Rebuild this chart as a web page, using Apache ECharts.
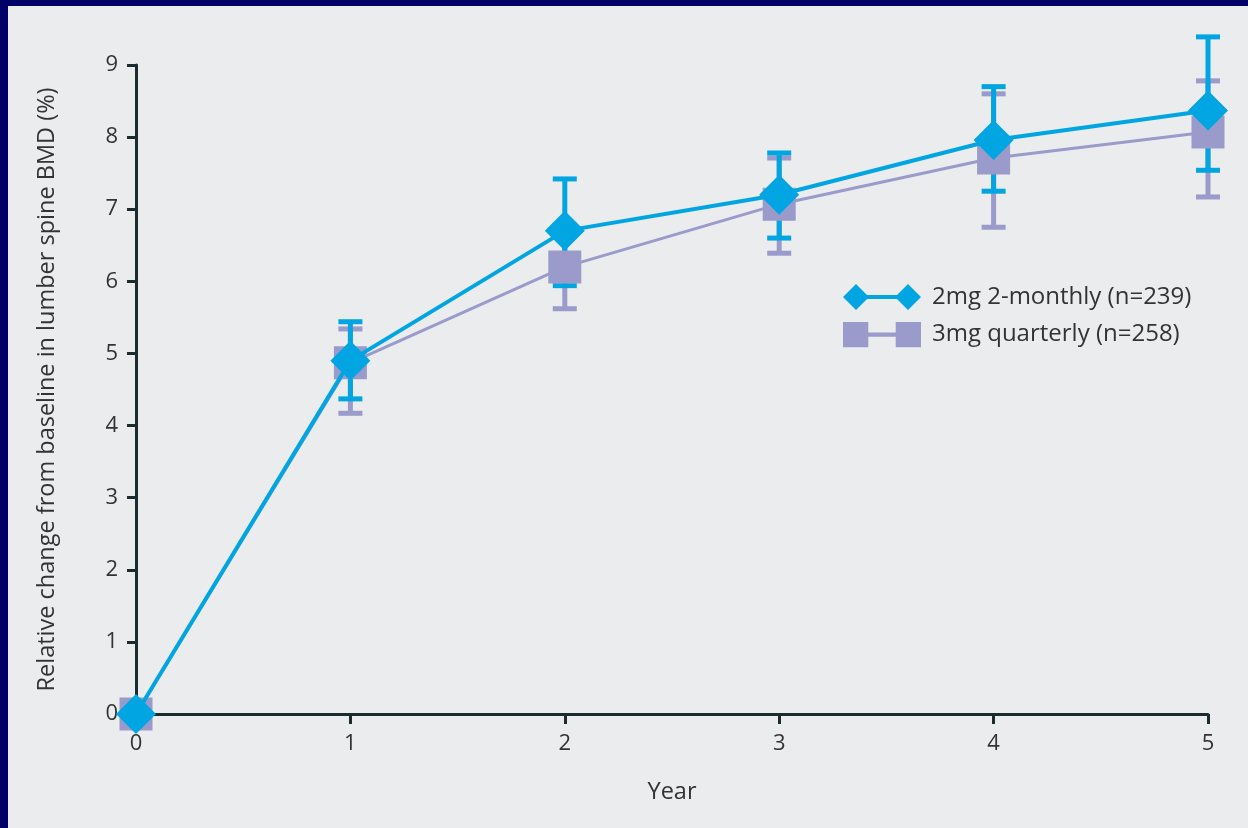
<!DOCTYPE html>
<html>
<head>
<meta charset="utf-8">
<script src="https://cdn.jsdelivr.net/npm/echarts@6/dist/echarts.min.js"></script>
<style>
html,body{margin:0;padding:0;background:#000066;width:1248px;height:828px;overflow:hidden;}
#c{position:absolute;left:8px;top:6px;width:1240px;height:822px;background:#ebecee;}
</style>
</head>
<body>
<div id="c"></div>
<script>
const years = [0, 1, 2, 3, 4, 5];
const yTicks = [0, 1, 2, 3, 4, 5, 6, 7, 8, 9];
const seriesNames = ['2mg 2-monthly (n=239)', '3mg quarterly (n=258)'];
const blueMean = [0, 4.9, 6.7, 7.2, 7.96, 8.37];
const blueLow  = [null, 4.37, 5.94, 6.6, 7.25, 7.54];
const blueHigh = [null, 5.44, 7.42, 7.78, 8.7, 9.39];
const purpleMean = [0, 4.87, 6.2, 7.07, 7.71, 8.07];
const purpleLow  = [null, 4.17, 5.62, 6.39, 6.75, 7.17];
const purpleHigh = [null, 5.34, 6.78, 7.71, 8.6, 8.78];

const BLUE = '#00a5e2';
const PURPLE = '#9a9acb';
const AXIS = '#1b2b30';
const FONT = '"Open Sans", sans-serif';

function errData(low, high) {
  const out = [];
  years.forEach((y, i) => { if (low[i] != null) out.push([y, low[i], high[i]]); });
  return out;
}
function errRender(color) {
  return function (params, api) {
    const x = api.value(0);
    const lo = api.coord([x, api.value(1)]);
    const hi = api.coord([x, api.value(2)]);
    const w = 12;
    const style = { fill: color };
    return {
      type: 'group',
      children: [
        { type: 'rect', shape: { x: lo[0] - 2.5, y: hi[1], width: 5, height: lo[1] - hi[1] }, style },
        { type: 'rect', shape: { x: hi[0] - w, y: hi[1] - 2.5, width: 2 * w, height: 5 }, style },
        { type: 'rect', shape: { x: lo[0] - w, y: lo[1] - 2.5, width: 2 * w, height: 5 }, style }
      ]
    };
  };
}

const chart = echarts.init(document.getElementById('c'), null, { renderer: 'canvas' });
chart.setOption({
  animation: false,
  backgroundColor: '#ebecee',
  grid: { left: 128, top: 59, right: 40, bottom: 114 },
  legend: {
    left: 830, top: 273, orient: 'vertical', itemGap: 12,
    itemWidth: 78, itemHeight: 26,
    textStyle: { fontFamily: FONT, fontSize: 24, color: '#333', padding: [0, 0, 0, 6] },
    data: [
      { name: seriesNames[0], icon: 'path://M0 13L13 0L26 13L13 26ZM13 11L65 11L65 15L13 15ZM52 13L65 0L78 13L65 26Z' },
      { name: seriesNames[1], icon: 'path://M2 1L26 1L26 25L2 25ZM26 11L52 11L52 15L26 15ZM52 1L76 1L76 25L52 25Z' }
    ]
  },
  xAxis: {
    type: 'value', min: 0, max: 5, interval: 1,
    name: 'Year', nameLocation: 'middle', nameGap: 66,
    nameTextStyle: { fontFamily: FONT, fontSize: 23.5, color: '#333' },
    axisLine: { lineStyle: { color: AXIS, width: 3 } },
    axisTick: { show: true, length: 10, lineStyle: { color: AXIS, width: 3 } },
    axisLabel: { fontFamily: FONT, fontSize: 22, color: '#333', margin: 19 },
    splitLine: { show: false }
  },
  yAxis: {
    type: 'value', min: 0, max: 9, interval: 1,
    name: 'Relative change from baseline in lumber spine BMD (%)', nameLocation: 'middle', nameGap: 77,
    nameTextStyle: { fontFamily: FONT, fontSize: 23.5, color: '#333' },
    axisLine: { show: true, lineStyle: { color: AXIS, width: 3 } },
    axisTick: { show: true, length: 9, lineStyle: { color: AXIS, width: 3 } },
    axisLabel: { fontFamily: FONT, fontSize: 22, color: '#333', margin: 18,
      formatter: v => yTicks.includes(v) ? String(v) : '' },
    splitLine: { show: false }
  },
  series: [
    { type: 'custom', name: seriesNames[1] + ' err', data: errData(purpleLow, purpleHigh),
      renderItem: errRender(PURPLE), encode: { x: 0, y: [1, 2] }, z: 1, silent: true },
    { type: 'custom', name: seriesNames[0] + ' err', data: errData(blueLow, blueHigh),
      renderItem: errRender(BLUE), encode: { x: 0, y: [1, 2] }, z: 2, silent: true },
    { type: 'line', name: seriesNames[1], data: years.map((y, i) => [y, purpleMean[i]]),
      symbol: 'rect', symbolSize: 33, showAllSymbol: true, clip: false, z: 3,
      lineStyle: { color: PURPLE, width: 3 }, itemStyle: { color: PURPLE } },
    { type: 'line', name: seriesNames[0], data: years.map((y, i) => [y, blueMean[i]]),
      symbol: 'diamond', symbolSize: 40, showAllSymbol: true, clip: false, z: 4,
      lineStyle: { color: BLUE, width: 4 }, itemStyle: { color: BLUE } }
  ]
});
</script>
</body>
</html>
